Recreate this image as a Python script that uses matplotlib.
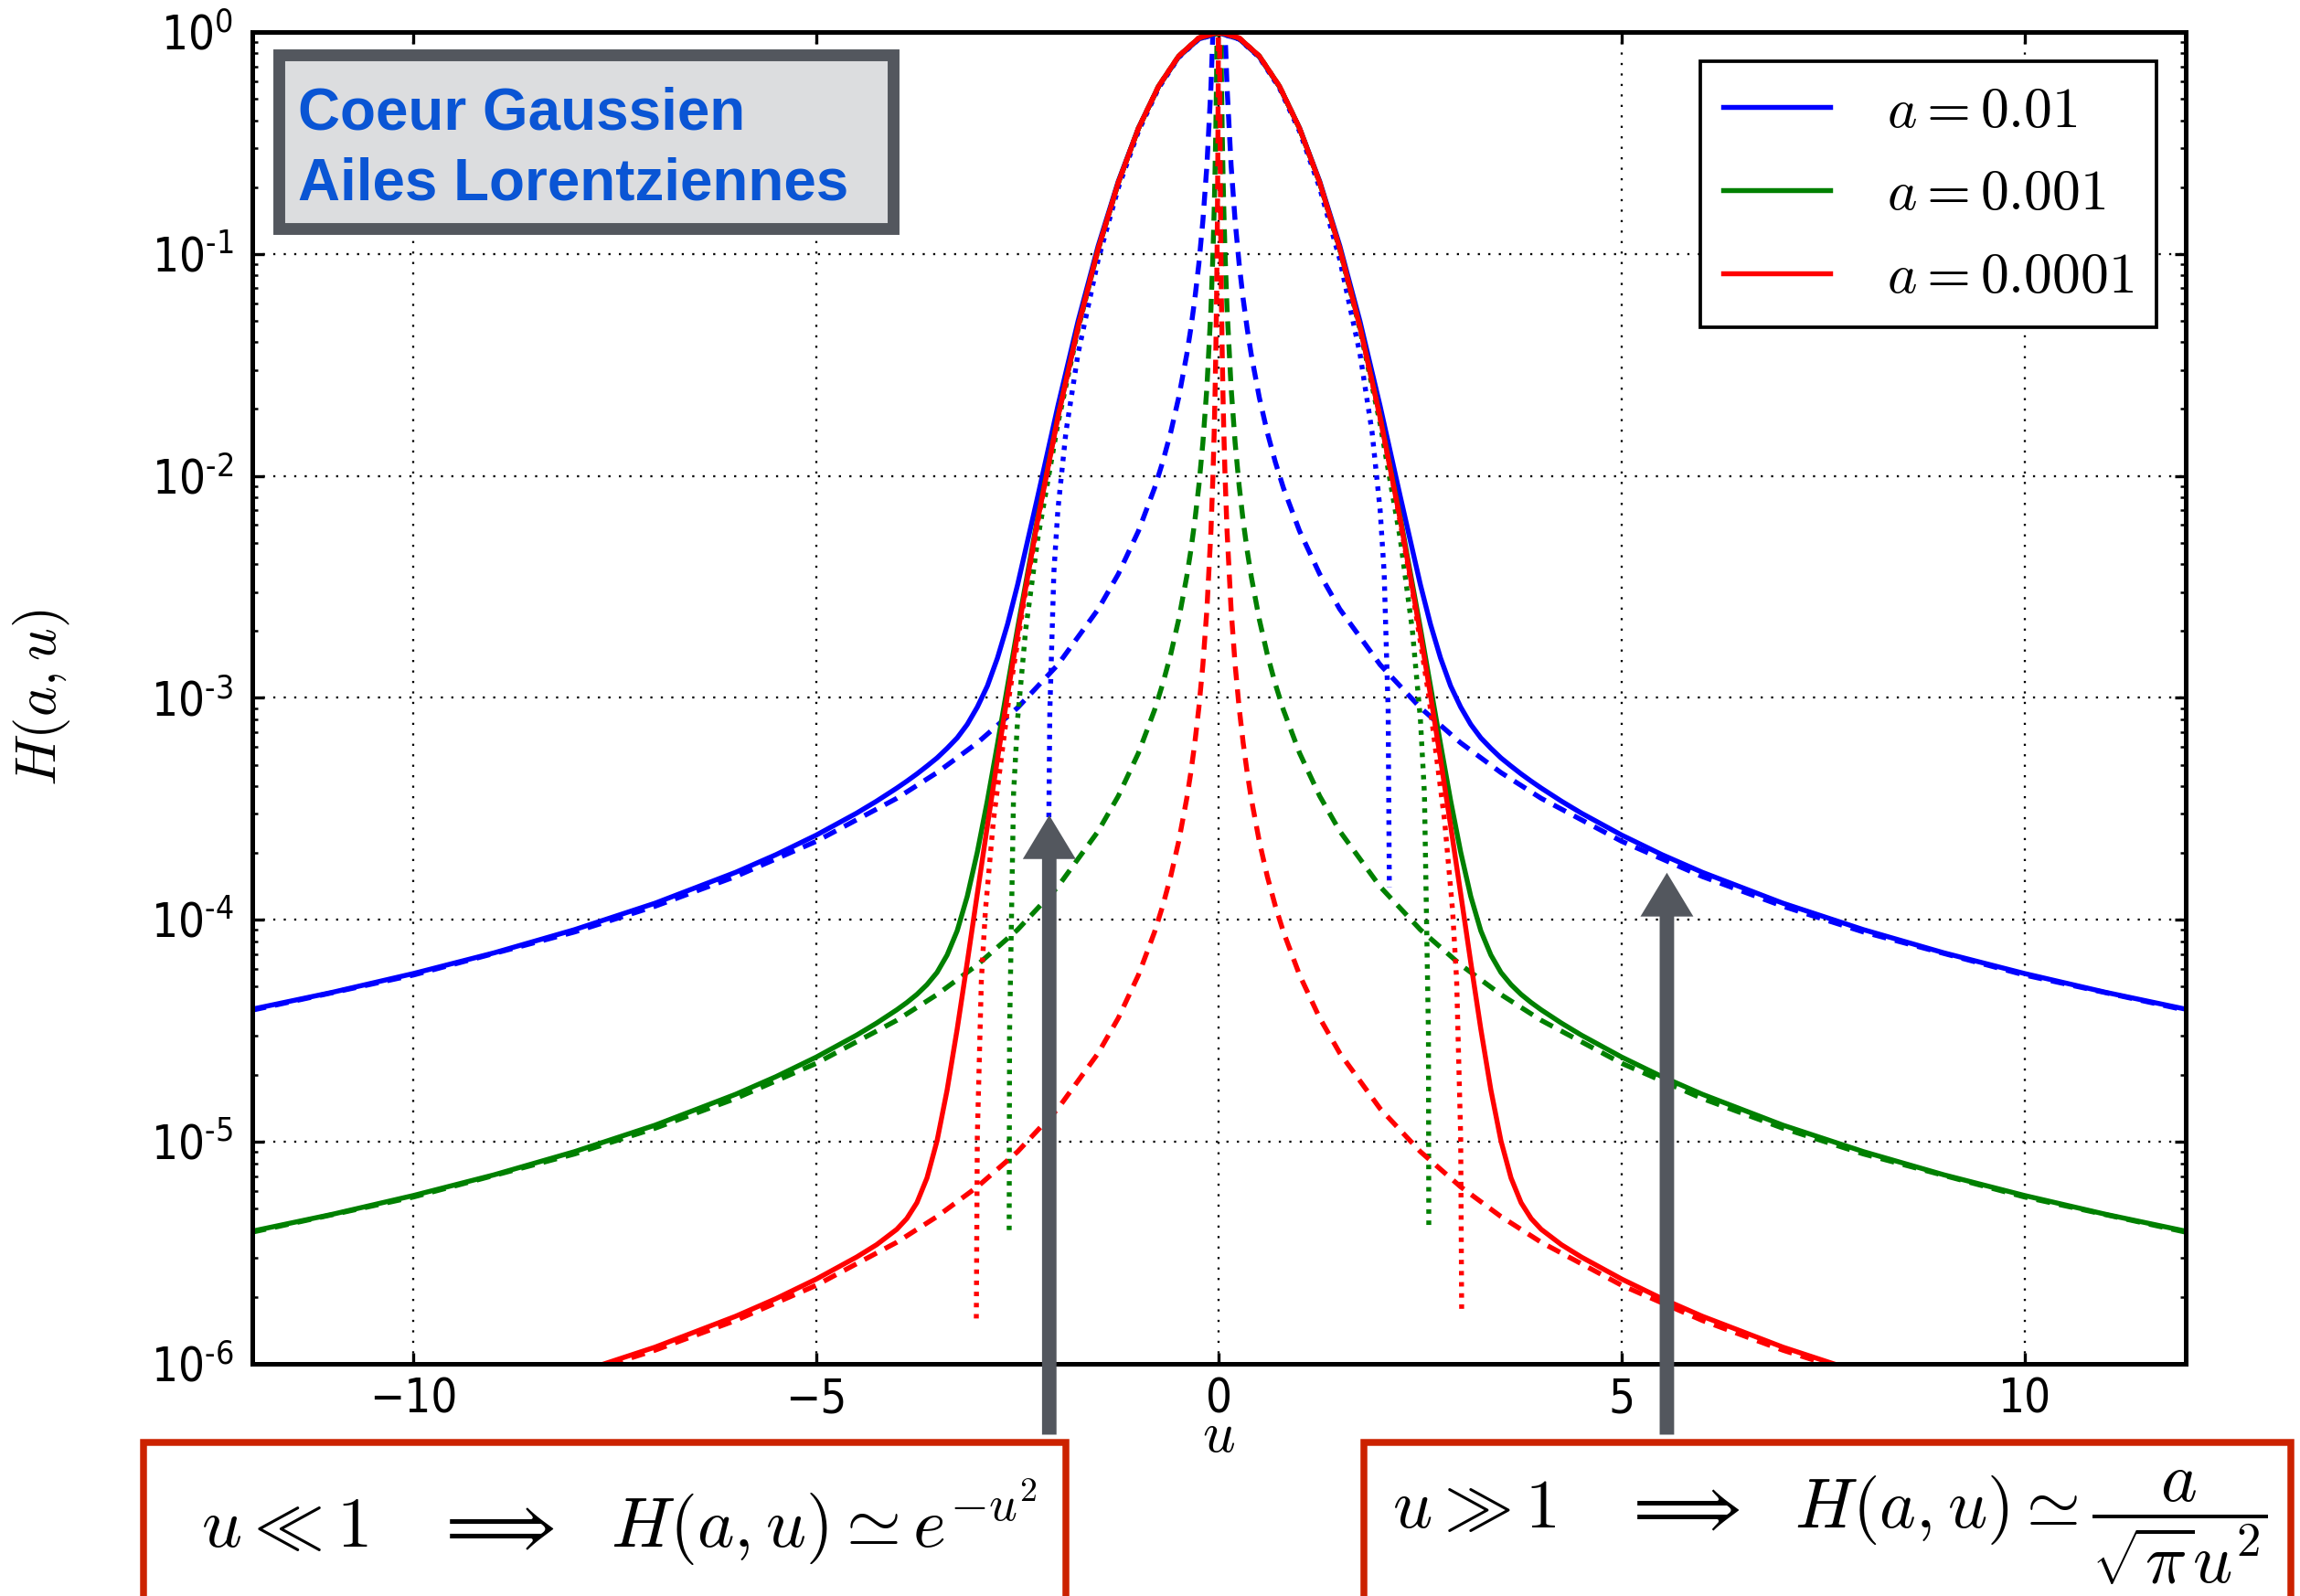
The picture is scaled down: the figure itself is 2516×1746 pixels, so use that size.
import numpy as np
import matplotlib
matplotlib.use("Agg")
import matplotlib.pyplot as plt
from matplotlib.patches import Rectangle
from matplotlib.ticker import FixedLocator, FixedFormatter

# ---------------- data ----------------
a_labels = [r"$a=0.01$", r"$a=0.001$", r"$a=0.0001$"]
colors = ["b", "g", "r"]

# Voigt profile H(a,u), solid curves (positive half; the profile is symmetric)
u_solid = [0.0, 0.25, 0.5, 0.75, 1.0, 1.25, 1.5, 1.75, 2.0, 2.25, 2.5, 2.625,
           2.75, 2.875, 3.0, 3.125, 3.25, 3.375, 3.5, 3.625, 3.75, 3.875, 4.0,
           4.25, 4.5, 5.0, 5.5, 6.0, 7.0, 8.0, 9.0, 10.0, 11.0, 12.0]
H_a1 = [0.98872, 0.92951, 0.77231, 0.56735, 0.36874, 0.21232, 0.10861, 0.049697,
        0.020633, 0.0080753, 0.0032326, 0.0021457, 0.0015115, 0.0011317,
        0.00090878, 0.00075925, 0.00066003, 0.00059243, 0.00053627, 0.00049281,
        0.00045440, 0.00042131, 0.00039212, 0.00034259, 0.00030219, 0.00024069,
        0.00019653, 0.00016371, 0.00011884, 9.030e-5, 7.098e-5, 5.729e-5,
        4.7205e-5, 3.9589e-5]
H_a2 = [0.99887, 0.93842, 0.77815, 0.56954, 0.36797, 0.20988, 0.10572, 0.047064,
        0.018547, 0.0065043, 0.0020607, 0.0011301, 0.0006188, 0.00034465,
        0.00020195, 0.00012758, 8.928e-5, 6.9414e-5, 5.7933e-5, 5.1049e-5,
        4.6143e-5, 4.2402e-5, 3.9314e-5, 3.4272e-5, 3.0219e-5, 2.4069e-5,
        1.9653e-5, 1.6371e-5, 1.1884e-5, 9.030e-6, 7.098e-6, 5.729e-6,
        4.7205e-6, 3.9589e-6]
H_a3 = [0.99989, 0.93932, 0.77874, 0.56976, 0.36789, 0.20964, 0.10543, 0.046800,
        0.018339, 0.0063472, 0.0019435, 0.0010286, 0.00052953, 0.00026595,
        0.00013126, 6.4410e-5, 3.2210e-5, 1.7112e-5, 1.0100e-5, 6.8723e-6,
        5.317e-6, 4.5113e-6, 4.0326e-6, 3.4401e-6, 3.0235e-6, 2.4069e-6,
        1.9653e-6, 1.6371e-6, 1.1884e-6, 9.030e-7, 7.098e-7, 5.729e-7,
        4.7205e-7, 3.9589e-7]

# Lorentzian wings a/(sqrt(pi) u^2), dashed curves (positive half)
u_dash = [0.005, 0.0075, 0.01, 0.015, 0.02, 0.03, 0.04, 0.05, 0.06, 0.075, 0.1,
          0.15, 0.2, 0.25, 0.3, 0.35, 0.4, 0.5, 0.6, 0.7, 0.8, 1.0, 1.25, 1.5,
          2.0, 2.5, 3.0, 3.5, 4.0, 5.0, 6.0, 7.0, 8.0, 10.0, 12.0]
L_a1 = [225.68, 100.30, 56.419, 25.075, 14.105, 6.2688, 3.5262, 2.2568, 1.5672,
        1.0030, 0.56419, 0.25075, 0.14105, 0.090270, 0.062688, 0.046056,
        0.035262, 0.022568, 0.015672, 0.011514, 0.0088155, 0.0056419, 0.0036108,
        0.0025075, 0.0014105, 0.00090270, 0.00062688, 0.00046056, 0.00035262,
        0.00022568, 0.00015672, 0.00011514, 8.8155e-5, 5.6419e-5, 3.9180e-5]
L_a2 = [22.568, 10.030, 5.6419, 2.5075, 1.4105, 0.62688, 0.35262, 0.22568,
        0.15672, 0.10030, 0.056419, 0.025075, 0.014105, 0.0090270, 0.0062688,
        0.0046056, 0.0035262, 0.0022568, 0.0015672, 0.0011514, 8.8155e-4,
        5.6419e-4, 3.6108e-4, 2.5075e-4, 1.4105e-4, 9.0270e-5, 6.2688e-5,
        4.6056e-5, 3.5262e-5, 2.2568e-5, 1.5672e-5, 1.1514e-5, 8.8155e-6,
        5.6419e-6, 3.9180e-6]
L_a3 = [2.2568, 1.0030, 0.56419, 0.25075, 0.14105, 0.062688, 0.035262, 0.022568,
        0.015672, 0.010030, 0.0056419, 0.0025075, 0.0014105, 9.0270e-4,
        6.2688e-4, 4.6056e-4, 3.5262e-4, 2.2568e-4, 1.5672e-4, 1.1514e-4,
        8.8155e-5, 5.6419e-5, 3.6108e-5, 2.5075e-5, 1.4105e-5, 9.0270e-6,
        6.2688e-6, 4.6056e-6, 3.5262e-6, 2.2568e-6, 1.5672e-6, 1.1514e-6,
        8.8155e-7, 5.6419e-7, 3.9180e-7]

# Gaussian-core approximation, dotted curves (full range, plunging at the ends)
u_dot1 = [-2.112, -2.1, -2.05, -2.0, -1.9, -1.75, -1.5, -1.25, -1.0, -0.75, -0.5,
          -0.25, 0.0, 0.25, 0.5, 0.75, 1.0, 1.25, 1.5, 1.75, 1.9, 2.0, 2.05, 2.1,
          2.1145]
D_a1 = [2.9e-4, 8.71e-4, 0.003674, 0.0070316, 0.015768, 0.035487, 0.094115,
        0.19833, 0.35660, 0.55850, 0.76752, 0.92813, 0.98872, 0.92813, 0.76752,
        0.55850, 0.35660, 0.19833, 0.094115, 0.035487, 0.015768, 0.0070316,
        0.003674, 8.71e-4, 1.4e-4]
u_dot2 = [-2.6045, -2.6, -2.55, -2.5, -2.4, -2.25, -2.0, -1.75, -1.5, -1.25, -1.0,
          -0.75, -0.5, -0.25, 0.0, 0.25, 0.5, 0.75, 1.0, 1.25, 1.5, 1.75, 2.0,
          2.25, 2.4, 2.5, 2.55, 2.6, 2.6045]
D_a2 = [4.0e-6, 3.08e-5, 3.713e-4, 8.021e-4, 0.0020227, 0.0052013, 0.017187,
        0.045643, 0.10427, 0.20848, 0.36675, 0.56865, 0.77767, 0.93828, 0.99887,
        0.93828, 0.77767, 0.56865, 0.36675, 0.20848, 0.10427, 0.045643, 0.017187,
        0.0052013, 0.0020227, 8.021e-4, 3.713e-4, 3.08e-5, 4.0e-6]
u_dot3 = [-3.0125, -3.0, -2.95, -2.9, -2.8, -2.6, -2.4, -2.2, -2.0, -1.75, -1.5,
          -1.25, -1.0, -0.75, -0.5, -0.25, 0.0, 0.25, 0.5, 0.75, 1.0, 1.25, 1.5,
          1.75, 2.0, 2.2, 2.4, 2.6, 2.8, 2.9, 2.95, 3.0, 3.0125]
D_a3 = [1.6e-6, 1.057e-5, 5.333e-5, 1.0979e-4, 2.8083e-4, 0.0010464, 0.0030383,
        0.0077942, 0.018203, 0.046658, 0.10529, 0.20950, 0.36777, 0.56967,
        0.77869, 0.93930, 0.99989, 0.93930, 0.77869, 0.56967, 0.36777, 0.20950,
        0.10529, 0.046658, 0.018203, 0.0077942, 0.0030383, 0.0010464, 2.8083e-4,
        1.0979e-4, 5.333e-5, 1.057e-5, 1.7e-6]

x_ticks = [-10, -5, 0, 5, 10]
y_tick_exponents = [0, -1, -2, -3, -4, -5, -6]
box_lines = ["Coeur Gaussien", "Ailes Lorentziennes"]
formula_small = r"$u \ll 1 \quad \Longrightarrow \enspace\, H(a,u) \simeq e^{-u^2}$"
formula_large = r"$u \gg 1 \quad \Longrightarrow \enspace\, H(a,u) \simeq \dfrac{a}{\sqrt{\pi}u^2}$"


def mirror(u, y):
    u = np.asarray(u, float)
    y = np.asarray(y, float)
    if u[0] == 0.0:
        return np.concatenate([-u[:0:-1], u]), np.concatenate([y[:0:-1], y])
    return np.concatenate([-u[::-1], u]), np.concatenate([y[::-1], y])


# ---------------- figure ----------------
plt.rcParams["mathtext.fontset"] = "cm"
plt.rcParams["font.family"] = ["DejaVu Sans"]
DPI = 300
fig = plt.figure(figsize=(2516 / DPI, 1746 / DPI), dpi=DPI)
ax = fig.add_axes([0.1097, 0.1455, 0.8406, 0.8345])

LW = 1.3
solids = [H_a1, H_a2, H_a3]
dashes = [L_a1, L_a2, L_a3]
dots = [(u_dot1, D_a1), (u_dot2, D_a2), (u_dot3, D_a3)]
handles = []
for i in range(3):
    us, hs = mirror(u_solid, solids[i])
    ln, = ax.plot(us, hs, color=colors[i], lw=LW, ls="-")
    handles.append(ln)
    ud, ld = mirror(u_dash, dashes[i])
    ax.plot(ud, ld, color=colors[i], lw=LW, ls=(0, (2.8, 1.85)))
    ax.plot(dots[i][0], dots[i][1], color=colors[i], lw=LW, ls=(0, (0.9, 1.35)))

ax.set_yscale("log")
ax.set_xlim(-12, 12)
ax.set_ylim(1e-6, 1)
ax.set_xticks(x_ticks)
ax.yaxis.set_major_locator(FixedLocator([10.0 ** k for k in y_tick_exponents]))
ax.yaxis.set_major_formatter(FixedFormatter(
    ["$\\mathdefault{10^{%s}}$" % (str(k).replace("-", "\u2010")) for k in y_tick_exponents]))
ax.tick_params(which="both", direction="in", top=True, right=True, labelsize=12.2)
ax.tick_params(axis="x", which="major", pad=3.5)
ax.tick_params(axis="y", which="major", pad=5)
ax.tick_params(which="major", length=3, width=0.8)
ax.tick_params(which="minor", length=1.5, width=0.6)
for lab in ax.get_xticklabels() + ax.get_yticklabels():
    lab.set_fontstretch("condensed")
ax.grid(True, which="major", color="k", linestyle=(0, (1, 4)), linewidth=0.55)
for s in ax.spines.values():
    s.set_linewidth(1.2)

ax.set_ylabel(r"$H(a,u)$", fontsize=15)
ax.yaxis.set_label_coords(-0.093, 0.5)
ax.set_xlabel(r"$u$", fontsize=15)
ax.xaxis.set_label_coords(0.5, -0.034)

leg = ax.legend(handles, a_labels, loc="upper right", bbox_to_anchor=(0.9849, 0.978),
                borderaxespad=0, fontsize=14.8, handlelength=1.9, handletextpad=1.0,
                borderpad=0.4, labelspacing=0.5, fancybox=False, framealpha=1,
                edgecolor="k")
leg.get_frame().set_linewidth(0.9)

# Text box "Coeur Gaussien / Ailes Lorentziennes"
ax.add_patch(Rectangle((0.01348, 0.8521), 0.3182, 0.1304, transform=ax.transAxes,
                       fc="#dcdddf", ec="#53575e", lw=3.1, zorder=5, clip_on=False))
for txt, yb in zip(box_lines, [0.9268, 0.8742]):
    ax.text(0.0236, yb, txt, transform=ax.transAxes, fontsize=15.3,
            fontweight="bold", color="#0a55d4", family="Liberation Sans",
            va="baseline", ha="left", zorder=6)

# Arrows
arrow_color = "#53575e"
for ux, uy in [(-2.107, 2.96e-4), (5.56, 1.63e-4)]:
    ax.annotate("", xy=(ux, uy), xycoords="data", xytext=(ux, 0.1011),
                textcoords=("data", "figure fraction"),
                arrowprops=dict(arrowstyle="simple,head_length=1.15,head_width=1.39,tail_width=0.38",
                                fc=arrow_color, ec="none", shrinkA=0, shrinkB=0,
                                mutation_scale=10),
                annotation_clip=False, zorder=7)

# Formula boxes at the bottom
red = "#cc2200"
fig.add_artist(Rectangle((0.0625, -0.1), 0.4011, 0.1965, transform=fig.transFigure,
                         fc="white", ec=red, lw=1.8))
fig.add_artist(Rectangle((0.5931, -0.1), 0.4031, 0.1965, transform=fig.transFigure,
                         fc="white", ec=red, lw=1.8))
fig.text(0.0874, 0.0303, formula_small, fontsize=18.5, va="baseline", ha="left")
fig.text(0.6055, 0.0425, formula_large, fontsize=18.2, va="baseline", ha="left")

fig.savefig("out.png", dpi=DPI)
